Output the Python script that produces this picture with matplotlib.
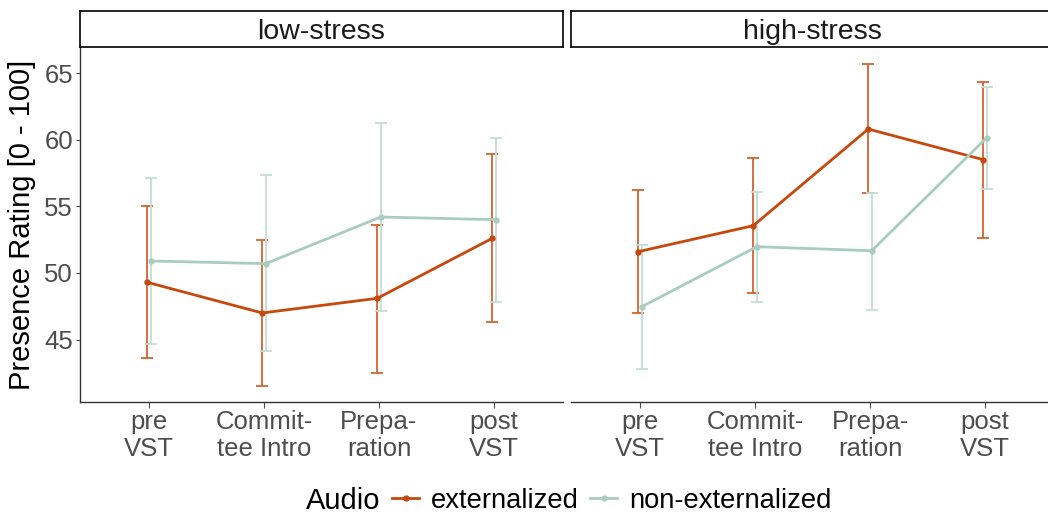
import matplotlib
matplotlib.use("Agg")
import matplotlib.pyplot as plt
from matplotlib.lines import Line2D

plt.rcParams['font.family'] = ['Liberation Sans', 'DejaVu Sans']

# ---------------- data ----------------
phases = ["pre\nVST", "Commit-\ntee Intro", "Prepa-\nration", "post\nVST"]
conditions = ["low-stress", "high-stress"]
series = ["externalized", "non-externalized"]

ext_low_mean = [49.3, 47.0, 48.1, 52.6]
ext_low_lo = [43.6, 41.5, 42.5, 46.3]
ext_low_hi = [55.0, 52.5, 53.6, 58.9]

non_low_mean = [50.9, 50.7, 54.2, 54.0]
non_low_lo = [44.65, 44.15, 47.15, 47.85]
non_low_hi = [57.1, 57.35, 61.25, 60.1]

ext_high_mean = [51.6, 53.55, 60.8, 58.5]
ext_high_lo = [46.97, 48.52, 56.0, 52.65]
ext_high_hi = [56.22, 58.6, 65.65, 64.35]

non_high_mean = [47.47, 51.97, 51.67, 60.15]
non_high_lo = [42.8, 47.85, 47.22, 56.27]
non_high_hi = [52.1, 56.07, 55.98, 63.97]

y_ticks = [45, 50, 55, 60, 65]

# ---------------- style ----------------
col_ext = "#C8470C"
col_ext_err = "#D6632F"
col_non = "#A8CDBF"
col_non_err = "#C3DDD3"

W, H = 1048, 517
fig = plt.figure(figsize=(W / 100, H / 100), dpi=100)

def fx(px):
    return px / W

def fy(py):
    return 1 - py / H

panel_w = 483
panel_top, panel_bot = 48, 402
strip_top, strip_bot = 11, 47
lefts = [80, 571]

data = {
    "low-stress": [(ext_low_mean, ext_low_lo, ext_low_hi), (non_low_mean, non_low_lo, non_low_hi)],
    "high-stress": [(ext_high_mean, ext_high_lo, ext_high_hi), (non_high_mean, non_high_lo, non_high_hi)],
}
colors = [(col_ext, col_ext_err), (col_non, col_non_err)]
dodge = [-0.015, 0.015]

for i, cond in enumerate(conditions):
    left = lefts[i]
    ax = fig.add_axes([fx(left), fy(panel_bot), panel_w / W, (panel_bot - panel_top) / H])
    x = list(range(len(phases)))
    for j, (m, lo, hi) in enumerate(data[cond]):
        xs = [v + dodge[j] for v in x]
        yerr = [[mm - l for mm, l in zip(m, lo)], [h - mm for mm, h in zip(m, hi)]]
        ax.errorbar(xs, m, yerr=yerr, fmt='none', ecolor=colors[j][1],
                    elinewidth=1.3, capsize=4.4, capthick=1.3, zorder=2)
    for j, (m, lo, hi) in enumerate(data[cond]):
        xs = [v + dodge[j] for v in x]
        ax.plot(xs, m, color=colors[j][0], lw=2.0, marker='o', markersize=3.5,
                zorder=3)
    ax.set_xlim(-0.6, 3.6)
    ax.set_ylim(40.32, 66.88)
    ax.set_xticks(x)
    ax.set_xticklabels(phases, fontsize=18.5, color="#4D4D4D", linespacing=1.15)
    ax.tick_params(axis='x', length=4, width=0.8, color="#4D4D4D", pad=2)
    for s in ["top", "right"]:
        ax.spines[s].set_visible(False)
    ax.spines["bottom"].set_color("#333333")
    ax.spines["bottom"].set_linewidth(1.0)
    if i == 0:
        ax.set_yticks(y_ticks)
        ax.set_yticklabels([str(t) for t in y_ticks], fontsize=18.5, color="#4D4D4D")
        ax.tick_params(axis='y', length=3, width=0.8, color="#4D4D4D", pad=2)
        ax.spines["left"].set_color("#333333")
        ax.spines["left"].set_linewidth(1.0)
        ax.set_ylabel("Presence Rating [0 - 100]", fontsize=21, color="black", labelpad=6)
    else:
        ax.set_yticks([])
        ax.spines["left"].set_visible(False)

    # strip
    sax = fig.add_axes([fx(left), fy(strip_bot), panel_w / W, (strip_bot - strip_top) / H])
    sax.set_xticks([])
    sax.set_yticks([])
    for s in sax.spines.values():
        s.set_color("black")
        s.set_linewidth(1.2)
    sax.text(0.5, 0.42, cond, ha='center', va='center', fontsize=20.5,
             color="#1A1A1A", transform=sax.transAxes)

# legend
fig.text(fx(306), fy(501), "Audio", fontsize=21, ha='left', va='center', color='black')
handles = [Line2D([0], [0], color=col_ext, lw=2.0, marker='o', markersize=3.5),
           Line2D([0], [0], color=col_non, lw=2.0, marker='o', markersize=3.5)]
fig.legend(handles, series, loc='center left', bbox_to_anchor=(fx(392), fy(501)),
           ncol=2, frameon=False, fontsize=19.7, handlelength=1.0, handletextpad=0.43,
           columnspacing=0.4, borderpad=0, borderaxespad=0)

fig.savefig("out.png", dpi=100)
